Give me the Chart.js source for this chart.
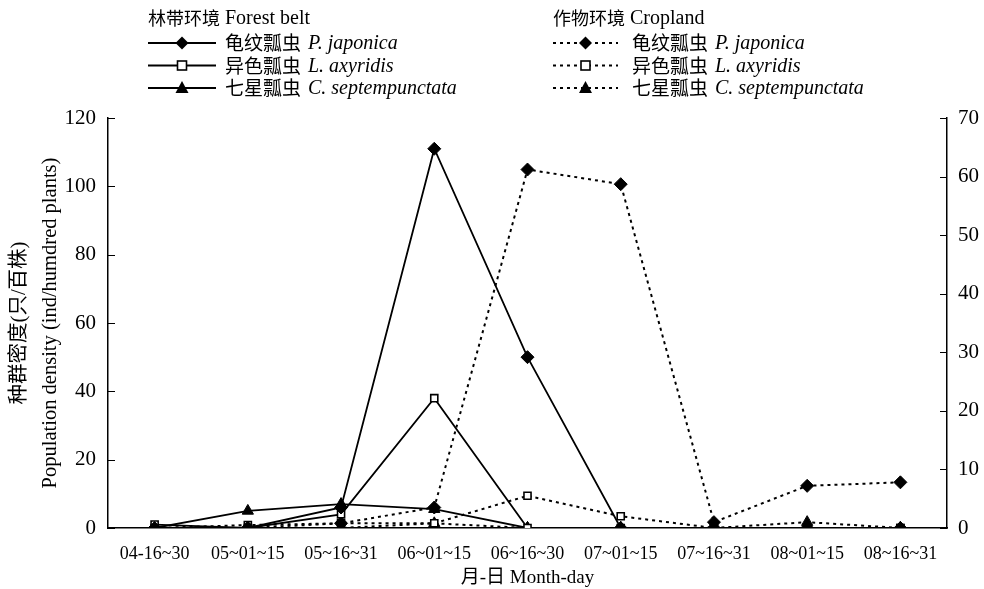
<!DOCTYPE html>
<html>
<head>
<meta charset="utf-8">
<script src="https://cdn.jsdelivr.net/npm/chart.js@4.4.1/dist/chart.umd.min.js"></script>
<style>
  html, body { margin: 0; padding: 0; background: #fff; }
  #wrap { width: 984px; height: 589px; }
</style>
</head>
<body>
<div id="wrap"><canvas id="myChart" width="984" height="589"></canvas></div>
<script>
// categories (month-day periods)
var periods = ['04-16~30', '05~01~15', '05~16~31', '06~01~15', '06~16~30', '07~01~15', '07~16~31', '08~01~15', '08~16~31'];

// forest belt (left axis)
var forestPJ = [0, 0, 6, 111, 50, 0, 0, 0, 0];
var forestLA = [1, 0, 4, 38, 0, 0, 0, 0, 0];
var forestCS = [0, 5, 7, 5.5, 0, 0, 0, 0, 0];

// cropland (right axis)
var cropPJ = [0, 0, 0.8, 3.5, 61.2, 58.7, 1, 7.2, 7.8];
var cropLA = [0, 0.5, 0.8, 0.8, 5.5, 2, 0, 0, 0];
var cropCS = [0, 0, 0, 0.8, 0, 0, 0, 1, 0];

var leftTicks = [0, 20, 40, 60, 80, 100, 120];
var rightTicks = [0, 10, 20, 30, 40, 50, 60, 70];

var serif = '"Liberation Serif", "Times New Roman", serif';
var cjk = '"Noto Sans CJK SC", sans-serif';
var mixed = '"Liberation Serif", "Noto Sans CJK SC", serif';
var DOTS = [3, 4];

function series(label, data, axis, shape, dashed) {
    var fill = shape === 'rect' ? '#fff' : '#000';
    return {
        label: label,
        data: data,
        yAxisID: axis,
        borderColor: '#000',
        borderWidth: dashed ? 2 : 1.8,
        borderDash: dashed ? DOTS : [],
        pointStyle: shape,
        pointRadius: shape === 'rect' ? 5 : 6.5,
        pointBackgroundColor: fill,
        pointBorderColor: '#000',
        pointBorderWidth: shape === 'rect' ? 1.6 : 1,
        tension: 0,
        fill: false
    };
}

// inward tick marks on both y axes
var tickMarks = {
    id: 'tickMarks',
    afterDraw: function(chart) {
        var ctx = chart.ctx;
        ctx.save();
        ctx.strokeStyle = '#000';
        ctx.lineWidth = 1;
        var yl = chart.scales.y, yr = chart.scales.y1;
        yl.ticks.forEach(function(t) {
            var py = Math.round(yl.getPixelForValue(t.value)) + 0.5;
            ctx.beginPath(); ctx.moveTo(yl.right, py); ctx.lineTo(yl.right + 7, py); ctx.stroke();
        });
        yr.ticks.forEach(function(t) {
            var py = Math.round(yr.getPixelForValue(t.value)) + 0.5;
            ctx.beginPath(); ctx.moveTo(yr.left, py); ctx.lineTo(yr.left - 7, py); ctx.stroke();
        });
        ctx.restore();
    }
};

function marker(ctx, shape, x, y) {
    ctx.save();
    ctx.setLineDash([]);
    ctx.strokeStyle = '#000';
    if (shape === 'rectRot') {
        ctx.fillStyle = '#000';
        ctx.beginPath();
        ctx.moveTo(x, y - 6.5); ctx.lineTo(x + 6.5, y); ctx.lineTo(x, y + 6.5); ctx.lineTo(x - 6.5, y);
        ctx.closePath(); ctx.fill();
    } else if (shape === 'rect') {
        ctx.fillStyle = '#fff';
        ctx.lineWidth = 1.6;
        ctx.fillRect(x - 4.5, y - 4.5, 9, 9);
        ctx.strokeRect(x - 4.5, y - 4.5, 9, 9);
    } else {
        ctx.fillStyle = '#000';
        ctx.beginPath();
        ctx.moveTo(x, y - 7); ctx.lineTo(x + 6.5, y + 5); ctx.lineTo(x - 6.5, y + 5);
        ctx.closePath(); ctx.fill();
    }
    ctx.restore();
}

// two-group legend at the top
var groupLegend = {
    id: 'groupLegend',
    afterDraw: function(chart) {
        var ctx = chart.ctx;
        var groups = [
            { x: 148, lineEnd: 216, textX: 225, cn: '林带环境', en: ' Forest belt', dashed: false },
            { x: 553, lineEnd: 618, textX: 632, cn: '作物环境', en: ' Cropland', dashed: true }
        ];
        var rows = [
            { shape: 'rectRot', cn: '龟纹瓢虫', la: 'P. japonica' },
            { shape: 'rect', cn: '异色瓢虫', la: 'L. axyridis' },
            { shape: 'triangle', cn: '七星瓢虫', la: 'C. septempunctata' }
        ];
        ctx.save();
        ctx.textBaseline = 'middle';
        ctx.fillStyle = '#000';
        groups.forEach(function(g) {
            ctx.font = '18px ' + cjk;
            ctx.fillText(g.cn, g.x, 18);
            var w = ctx.measureText(g.cn).width;
            ctx.font = '20px ' + serif;
            ctx.fillText(g.en, g.x + w, 19);
            rows.forEach(function(r, i) {
                var y = 43 + i * 22.5;
                ctx.save();
                ctx.strokeStyle = '#000';
                ctx.lineWidth = g.dashed ? 2 : 1.8;
                ctx.setLineDash(g.dashed ? DOTS : []);
                ctx.beginPath(); ctx.moveTo(g.x, y); ctx.lineTo(g.lineEnd, y); ctx.stroke();
                ctx.restore();
                marker(ctx, r.shape, (g.x + g.lineEnd) / 2, y);
                ctx.font = '19px ' + cjk;
                ctx.fillText(r.cn, g.textX, y);
                var cw = ctx.measureText(r.cn).width;
                ctx.font = 'italic 20px ' + serif;
                ctx.fillText(r.la, g.textX + cw + 7, y + 1);
            });
        });
        ctx.restore();
    }
};

var ctx = document.getElementById('myChart').getContext('2d');

var myChart = new Chart(ctx, {
    type: 'line',
    data: {
        labels: periods,
        datasets: [
            series('龟纹瓢虫 P. japonica (林带)', forestPJ, 'y', 'rectRot', false),
            series('异色瓢虫 L. axyridis (林带)', forestLA, 'y', 'rect', false),
            series('七星瓢虫 C. septempunctata (林带)', forestCS, 'y', 'triangle', false),
            series('龟纹瓢虫 P. japonica (作物)', cropPJ, 'y1', 'rectRot', true),
            series('异色瓢虫 L. axyridis (作物)', cropLA, 'y1', 'rect', true),
            series('七星瓢虫 C. septempunctata (作物)', cropCS, 'y1', 'triangle', true)
        ]
    },
    options: {
        responsive: false,
        animation: false,
        layout: { padding: { top: 118, left: 0, right: 0, bottom: 0 } },
        plugins: {
            legend: { display: false },
            tooltip: { enabled: false }
        },
        scales: {
            x: {
                offset: true,
                grid: { display: false },
                border: { display: true, color: '#000', width: 1.5 },
                ticks: { color: '#000', font: { family: serif, size: 18 }, padding: 7, maxRotation: 0, autoSkip: false },
                title: { display: true, text: '月-日 Month-day', color: '#000', font: { family: mixed, size: 19 }, padding: { top: 0, bottom: 0 } },
                afterFit: function(s) { s.height = 61; }
            },
            y: {
                position: 'left',
                min: 0, max: 120,
                afterBuildTicks: function(s) { s.ticks = leftTicks.map(function(v) { return { value: v }; }); },
                grid: { display: false },
                border: { display: true, color: '#000', width: 1.5 },
                ticks: { color: '#000', font: { family: serif, size: 21 }, padding: 4 },
                title: {
                    display: true,
                    text: ['种群密度(只/百株)', 'Population density (ind/humdred plants)'],
                    color: '#000',
                    font: { family: mixed, size: 20.5, lineHeight: 1.5 },
                    padding: { top: 4, bottom: 0 }
                },
                afterFit: function(s) { s.width = 108; }
            },
            y1: {
                position: 'right',
                min: 0, max: 70,
                afterBuildTicks: function(s) { s.ticks = rightTicks.map(function(v) { return { value: v }; }); },
                grid: { display: false },
                border: { display: true, color: '#000', width: 1.5 },
                ticks: { color: '#000', font: { family: serif, size: 21 }, padding: 3 },
                afterFit: function(s) { s.width = 37; }
            }
        }
    },
    plugins: [tickMarks, groupLegend]
});
</script>
</body>
</html>
